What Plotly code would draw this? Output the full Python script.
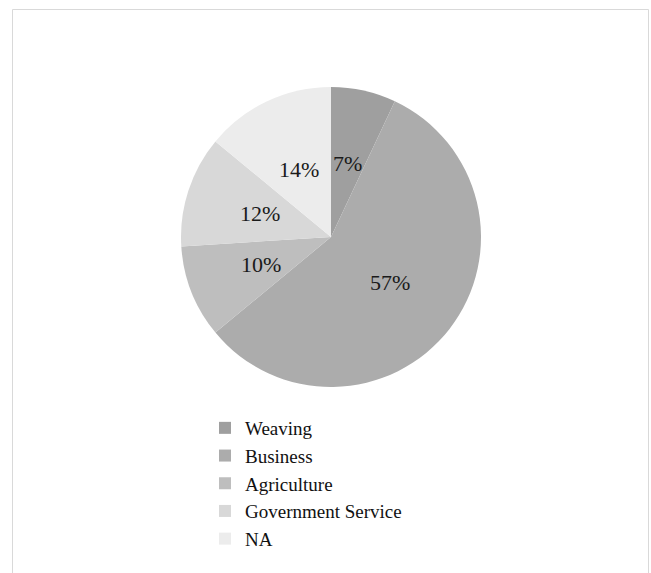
import math
import plotly.graph_objects as go

labels = ["Weaving", "Business", "Agriculture", "Government Service", "NA"]
values = [7, 57, 10, 12, 14]
colors = ["#9f9f9f", "#acacac", "#bebebe", "#d8d8d8", "#ececec"]

W, H = 651, 573
cx, cy, r = 331, 237, 150

fig = go.Figure(go.Pie(
    labels=labels, values=values, sort=False, direction="clockwise", rotation=0,
    marker=dict(colors=colors, line=dict(width=0)),
    textinfo="none",
    domain=dict(x=[(cx - r) / W, (cx + r) / W], y=[1 - (cy + r) / H, 1 - (cy - r) / H]),
    hoverinfo="label+percent",
))

# percentage labels placed at half radius along each slice's mid-angle
total = sum(values)
annotations = []
cum = 0
for v in values:
    mid = (cum + v / 2) / total * 2 * math.pi
    cum += v
    px = cx + 0.5 * r * math.sin(mid)
    py = cy - 0.5 * r * math.cos(mid)
    annotations.append(dict(
        x=px / W, y=1 - py / H, xref="paper", yref="paper",
        text=f"{round(v / total * 100)}%", showarrow=False,
        font=dict(family="Liberation Serif", size=22, color="#1a1a1a"),
        xanchor="center", yanchor="middle",
    ))

fig.update_layout(
    width=W, height=H, margin=dict(l=0, r=0, t=0, b=0),
    paper_bgcolor="white", plot_bgcolor="white",
    showlegend=True,
    legend=dict(x=205 / W, y=1 - 409 / H, xanchor="left", yanchor="top",
                font=dict(family="Liberation Serif", size=19, color="#111111"),
                tracegroupgap=0, itemwidth=30, bgcolor="rgba(0,0,0,0)"),
    annotations=annotations,
    shapes=[dict(type="rect", xref="paper", yref="paper",
                 x0=12.5 / W, x1=648.5 / W, y0=-0.05, y1=1 - 9.5 / H,
                 line=dict(color="#d9d9d9", width=1))],
)

fig.write_html("out.html", config={"displayModeBar": False},
               post_script="document.body.style.margin='0';")
